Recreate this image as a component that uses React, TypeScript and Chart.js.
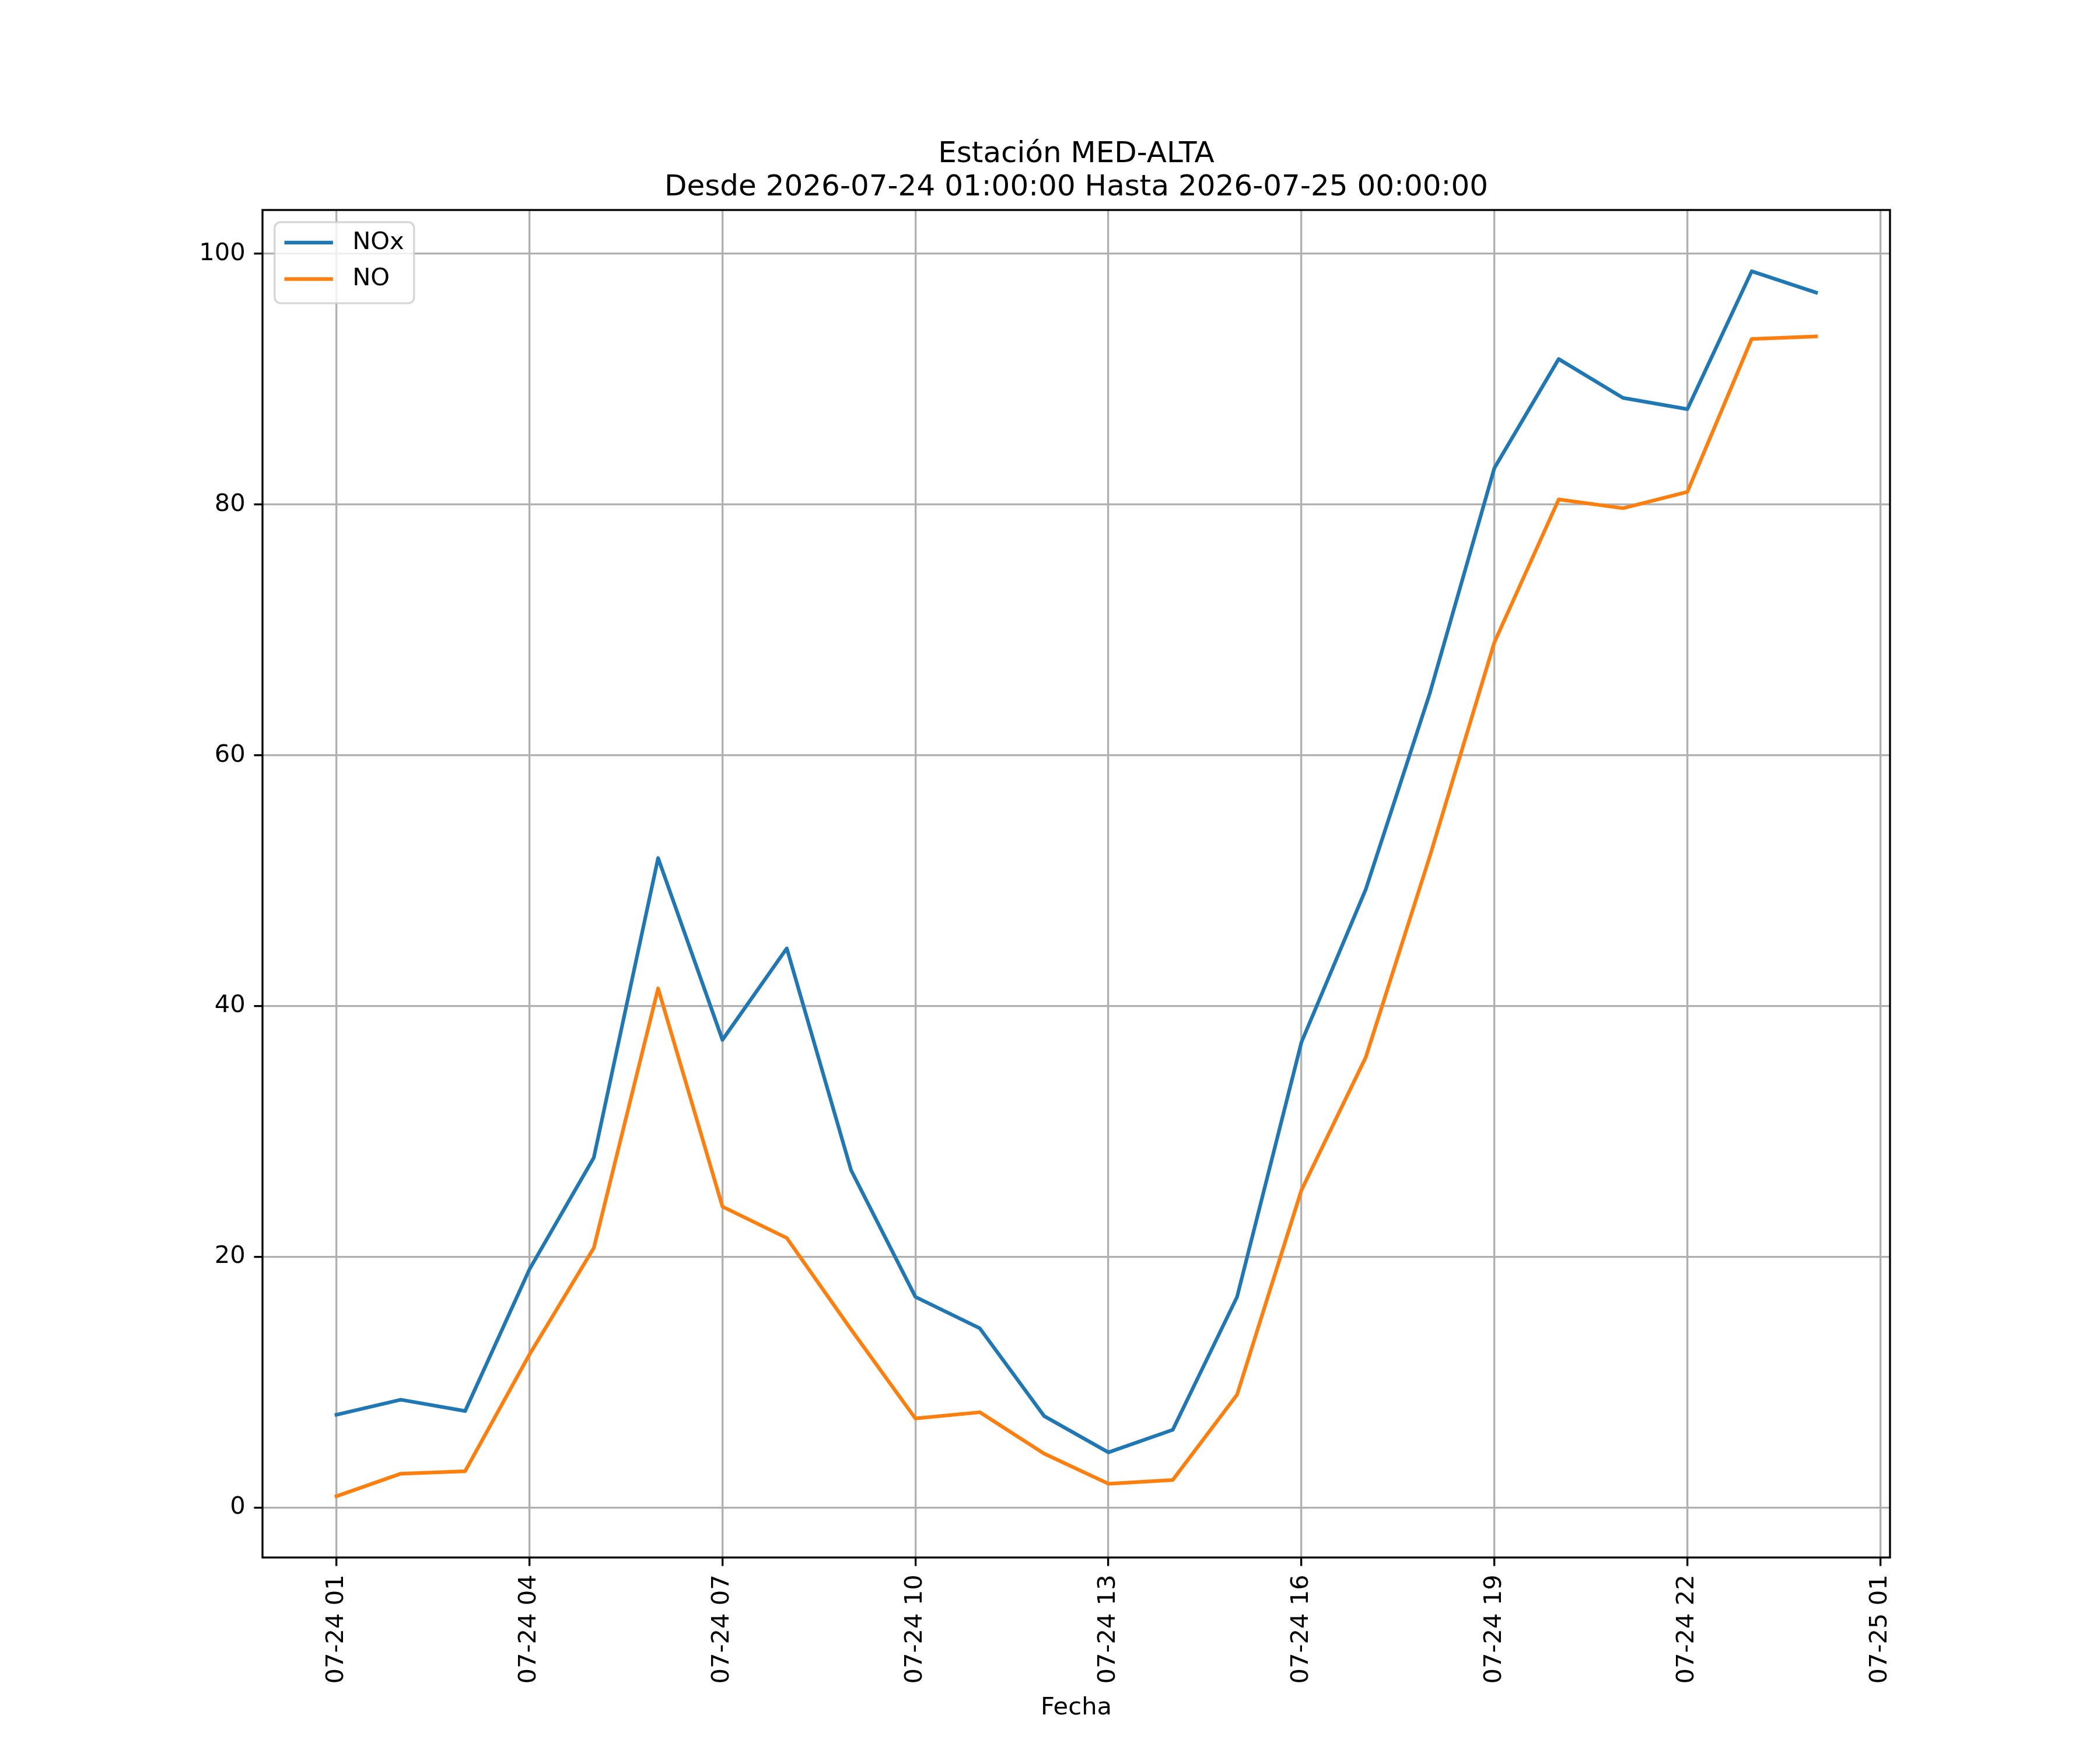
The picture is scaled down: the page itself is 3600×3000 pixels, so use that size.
import { useEffect, useRef } from "react";
import { Chart, registerables } from "chart.js";

Chart.register(...registerables);

// hourly readings, station MED-ALTA
const timestamps = [
  "2026-07-24 01:00", "2026-07-24 02:00", "2026-07-24 03:00", "2026-07-24 04:00",
  "2026-07-24 05:00", "2026-07-24 06:00", "2026-07-24 07:00", "2026-07-24 08:00",
  "2026-07-24 09:00", "2026-07-24 10:00", "2026-07-24 11:00", "2026-07-24 12:00",
  "2026-07-24 13:00", "2026-07-24 14:00", "2026-07-24 15:00", "2026-07-24 16:00",
  "2026-07-24 17:00", "2026-07-24 18:00", "2026-07-24 19:00", "2026-07-24 20:00",
  "2026-07-24 21:00", "2026-07-24 22:00", "2026-07-24 23:00", "2026-07-25 00:00",
];

const noxValues = [
  7.4, 8.6, 7.7, 19.0, 27.9, 51.8, 37.3, 44.6, 26.9, 16.8, 14.3, 7.3,
  4.4, 6.2, 16.8, 37.1, 49.3, 65.0, 82.9, 91.6, 88.5, 87.6, 98.6, 96.9,
];

const noValues = [
  0.9, 2.7, 2.9, 12.2, 20.7, 41.4, 24.0, 21.5, 14.2, 7.1, 7.6, 4.3,
  1.9, 2.2, 9.0, 25.3, 35.9, 52.0, 69.0, 80.4, 79.7, 81.0, 93.2, 93.4,
];

const xTickHours = [1, 4, 7, 10, 13, 16, 19, 22, 25];
const yTickValues = [0, 20, 40, 60, 80, 100];

const titleLines = ["Estación MED-ALTA", "Desde 2026-07-24 01:00:00 Hasta 2026-07-25 00:00:00"];

const PT = 300 / 72; // matplotlib points -> px at 300 dpi
const FONT = "DejaVu Sans";

// hours since 2026-07-24 00:00
function hourOf(ts: string) {
  const day = Number(ts.slice(8, 10));
  const hour = Number(ts.slice(11, 13));
  return (day - 24) * 24 + hour;
}

function tickLabel(h: number) {
  const day = 24 + Math.floor(h / 24);
  const hr = h % 24;
  return `07-${day} ${String(hr).padStart(2, "0")}`;
}

export default function App() {
  const canvasRef = useRef<HTMLCanvasElement | null>(null);

  useEffect(() => {
    if (!canvasRef.current) {
      return;
    }

    const xs = timestamps.map(hourOf);
    const xPad = (xs[xs.length - 1] - xs[0]) * 0.05;
    const all = [...noxValues, ...noValues];
    const yMin = Math.min(...all);
    const yMax = Math.max(...all);
    const yPad = (yMax - yMin) * 0.05;

    const fs = 10 * PT;
    const series = [
      { label: "NOx", values: noxValues, color: "#1f77b4" },
      { label: "NO", values: noValues, color: "#ff7f0e" },
    ];

    const decorations = {
      id: "mplDecorations",
      afterDraw: (chart: Chart) => {
        const { ctx, chartArea } = chart;
        ctx.save();

        // spines
        ctx.strokeStyle = "#000";
        ctx.lineWidth = 0.8 * PT;
        ctx.lineJoin = "miter";
        ctx.strokeRect(
          chartArea.left,
          chartArea.top,
          chartArea.right - chartArea.left,
          chartArea.bottom - chartArea.top,
        );

        // title
        const cx = (chartArea.left + chartArea.right) / 2;
        ctx.fillStyle = "#000";
        ctx.font = `${12 * PT}px ${FONT}`;
        ctx.textAlign = "center";
        ctx.textBaseline = "alphabetic";
        const base = chartArea.top - 6 * PT;
        ctx.fillText(titleLines[0], cx, base - 1.2 * 12 * PT + 3);
        ctx.fillText(titleLines[1], cx, base);

        // legend
        const lx = chartArea.left + 0.5 * fs;
        const ly = chartArea.top + 0.5 * fs;
        const lw = 239;
        const lh = 139;
        ctx.beginPath();
        ctx.roundRect(lx, ly, lw, lh, 10);
        ctx.fillStyle = "rgba(255,255,255,0.8)";
        ctx.fill();
        ctx.strokeStyle = "rgba(204,204,204,0.8)";
        ctx.lineWidth = 0.8 * PT;
        ctx.stroke();

        ctx.font = `${fs}px ${FONT}`;
        ctx.textAlign = "left";
        ctx.textBaseline = "middle";
        series.forEach((s, i) => {
          const rowY = ly + 35 + i * 1.5 * fs;
          ctx.strokeStyle = s.color;
          ctx.lineWidth = 1.5 * PT;
          ctx.lineCap = "butt";
          ctx.beginPath();
          ctx.moveTo(lx + 0.4 * fs, rowY);
          ctx.lineTo(lx + 2.4 * fs, rowY);
          ctx.stroke();
          ctx.fillStyle = "#000";
          ctx.fillText(s.label, lx + 3.2 * fs, rowY);
        });

        ctx.restore();
      },
    };

    const chart = new Chart(canvasRef.current, {
      type: "line",
      data: {
        datasets: series.map((s) => ({
          label: s.label,
          data: s.values.map((v, i) => ({ x: xs[i], y: v })),
          borderColor: s.color,
          backgroundColor: s.color,
          borderWidth: 1.5 * PT,
          pointRadius: 0,
          tension: 0,
          borderJoinStyle: "round",
          borderCapStyle: "square",
        })),
      },
      plugins: [decorations],
      options: {
        animation: false,
        responsive: false,
        devicePixelRatio: 1,
        events: [],
        layout: { padding: { top: 360, right: 360, bottom: 0, left: 0 } },
        plugins: {
          legend: { display: false },
          tooltip: { enabled: false },
          title: { display: false },
        },
        scales: {
          x: {
            type: "linear",
            min: xs[0] - xPad,
            max: xs[xs.length - 1] + xPad,
            afterBuildTicks: (scale: any) => {
              scale.ticks = xTickHours.map((v) => ({ value: v }));
            },
            afterFit: (scale: any) => {
              scale.height = 330;
            },
            ticks: {
              autoSkip: false,
              minRotation: 90,
              maxRotation: 90,
              padding: 3.5 * PT,
              color: "#000",
              font: { family: FONT, size: fs },
              callback: (v: any) => tickLabel(Number(v)),
            },
            grid: {
              color: "#b0b0b0",
              lineWidth: 0.8 * PT,
              tickColor: "#000",
              tickWidth: 0.8 * PT,
              tickLength: 3.5 * PT,
            },
            border: { display: false },
            title: {
              display: true,
              text: "Fecha",
              color: "#000",
              font: { family: FONT, size: fs },
              padding: { top: 0, bottom: 47 },
            },
          },
          y: {
            type: "linear",
            min: yMin - yPad,
            max: yMax + yPad,
            afterBuildTicks: (scale: any) => {
              scale.ticks = yTickValues.map((v) => ({ value: v }));
            },
            afterFit: (scale: any) => {
              scale.width = 450;
            },
            ticks: {
              padding: 3.5 * PT,
              color: "#000",
              font: { family: FONT, size: fs },
              callback: (v: any) => String(v),
            },
            grid: {
              color: "#b0b0b0",
              lineWidth: 0.8 * PT,
              tickColor: "#000",
              tickWidth: 0.8 * PT,
              tickLength: 3.5 * PT,
            },
            border: { display: false },
          },
        },
      } as any,
    });

    return () => {
      chart.destroy();
    };
  }, []);

  return (
    <div style={{ position: "fixed", left: 0, top: 0, width: 3600, height: 3000, background: "#fff" }}>
      <canvas ref={canvasRef} width={3600} height={3000} style={{ width: 3600, height: 3000 }} />
    </div>
  );
}
